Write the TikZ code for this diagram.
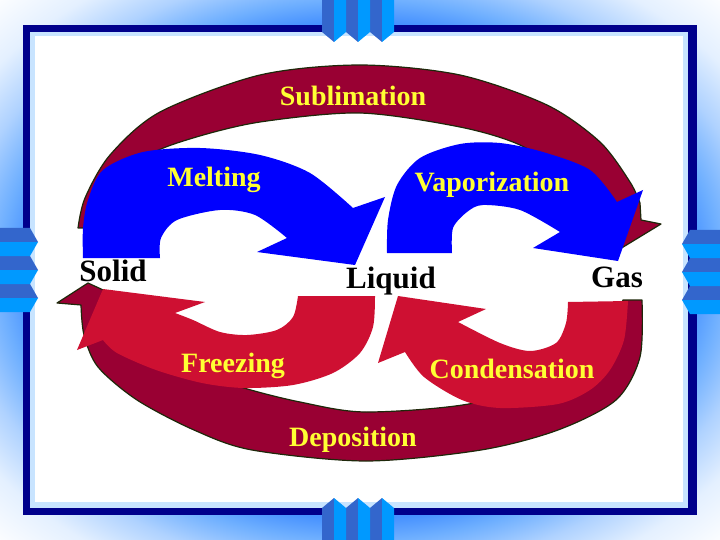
\documentclass[tikz,border=0pt]{standalone}
\usepackage{fontspec}
\setmainfont{Liberation Serif}
\usetikzlibrary{positioning}

\definecolor{maroon}{RGB}{153,0,51}
\definecolor{crimson}{RGB}{206,16,50}
\definecolor{royal}{RGB}{0,0,255}
\definecolor{navy}{RGB}{0,0,140}
\definecolor{pale}{RGB}{200,228,255}
\definecolor{tabdark}{RGB}{51,102,204}
\definecolor{tabbright}{RGB}{0,153,255}
\definecolor{label}{RGB}{255,255,51}
\definecolor{rim}{RGB}{30,40,10}
\definecolor{glowA}{RGB}{70,145,255}
\definecolor{glowB}{RGB}{110,175,255}
\definecolor{glowC}{RGB}{175,210,255}
\definecolor{glowD}{RGB}{228,240,255}

\pgfdeclareradialshading{frameglow}{\pgfpoint{0bp}{0bp}}{%
  color(0bp)=(glowA); color(23bp)=(glowA); color(25bp)=(glowB);
  color(28bp)=(glowC); color(31.5bp)=(glowD); color(36bp)=(white);
  color(50bp)=(white)}

\tikzstyle{state} = [font=\fontsize{31}{33}\selectfont\bfseries, text=black, inner sep=0pt, anchor=base]
\tikzstyle{change} = [font=\fontsize{28}{30}\selectfont\bfseries, text=label, inner sep=0pt, anchor=base]
\tikzstyle{ring} = [fill=maroon, draw=rim, line width=1.2pt, line join=round]

\begin{document}
\begin{tikzpicture}[x=1pt,y=-1pt]
\useasboundingbox (0,0) rectangle (720,540);

% frame
\shade[shading=frameglow] (0,0) rectangle (720,540);
\fill[navy] (23,25) rectangle (697,515);
\fill[pale] (30,32) rectangle (688,508);
\fill[white] (35,36) rectangle (683,502);

% tabs
\fill[tabdark] (322,0) -- (334,0) -- (334,42) -- (322,32) -- cycle
  (346,0) -- (358,0) -- (358,42) -- (346,32) -- cycle
  (370,0) -- (382,0) -- (382,42) -- (370,32) -- cycle;
\fill[tabbright] (334,0) -- (346,0) -- (346,32) -- (334,42) -- cycle
  (358,0) -- (370,0) -- (370,32) -- (358,42) -- cycle
  (382,0) -- (394,0) -- (394,32) -- (382,42) -- cycle;
\fill[tabdark] (322,540) -- (334,540) -- (334,498) -- (322,508) -- cycle
  (346,540) -- (358,540) -- (358,498) -- (346,508) -- cycle
  (370,540) -- (382,540) -- (382,498) -- (370,508) -- cycle;
\fill[tabbright] (334,540) -- (346,540) -- (346,508) -- (334,498) -- cycle
  (358,540) -- (370,540) -- (370,508) -- (358,498) -- cycle
  (382,540) -- (394,540) -- (394,508) -- (382,498) -- cycle;
\fill[tabdark] (0,228) -- (0,242) -- (38,242) -- (30,228) -- cycle
  (0,256) -- (0,270) -- (38,270) -- (30,256) -- cycle
  (0,284) -- (0,298) -- (38,298) -- (30,284) -- cycle;
\fill[tabbright] (0,242) -- (0,256) -- (30,256) -- (38,242) -- cycle
  (0,270) -- (0,284) -- (30,284) -- (38,270) -- cycle
  (0,298) -- (0,312) -- (30,312) -- (38,298) -- cycle;
\fill[tabdark] (720,230) -- (720,244) -- (682,244) -- (690,230) -- cycle
  (720,258) -- (720,272) -- (682,272) -- (690,258) -- cycle
  (720,286) -- (720,300) -- (682,300) -- (690,286) -- cycle;
\fill[tabbright] (720,244) -- (720,258) -- (690,258) -- (682,244) -- cycle
  (720,272) -- (720,286) -- (690,286) -- (682,272) -- cycle
  (720,300) -- (720,314) -- (690,314) -- (682,300) -- cycle;

% sublimation and deposition
\filldraw[ring] plot[smooth] coordinates {(78,228) (85,198) (110,155) (160,112) (260,75) (360,65) (460,75) (547,105) (600,142) (630,182) (640,203)}
  -- (641,220) -- (661,224) -- (615,252) -- (588,222) -- (600,212)
  -- plot[smooth] coordinates {(600,212) (565,175) (520,145) (460,127) (360,113) (260,122) (193,138) (147,156) (112,190) (92,228)} -- cycle;
\filldraw[ring] plot[smooth] coordinates {(642,300) (640,357) (616,400) (558,430) (481,450) (366,461) (252,450) (194,430) (137,400) (98,367) (84,335) (81,305)}
  -- (57,303) -- (88,283) -- (125,300) -- (112,322)
  -- plot[smooth] coordinates {(112,322) (150,350) (200,372) (244,388) (300,402) (366,412) (474,403) (560,372) (602,340) (623,300)} -- cycle;

% melting and vaporization
\fill[royal] plot[smooth] coordinates {(83,258) (83,228) (88,200) (103,170) (143,152) (200,148) (260,155) (310,173) (353,208)}
  -- (385,197) -- (355,265) -- (257,252) -- (287,238)
  -- plot[smooth] coordinates {(287,238) (255,215) (220,210) (177,220) (161,238) (160,258)} -- cycle;
\fill[royal] plot[smooth] coordinates {(387,253) (388,220) (397,185) (420,158) (460,144) (500,143) (543,152) (590,170) (617,202)}
  -- (643,190) -- (618,261) -- (533,248) -- (560,232)
  -- plot[smooth] coordinates {(560,232) (520,210) (483,205) (467,212) (453,228) (452,253)} -- cycle;

% freezing and condensation
\fill[crimson] plot[smooth] coordinates {(375,296) (373,327) (360,353) (333,373) (293,385) (244,388) (202,383) (156,370) (117,353) (103,340)}
  -- (77,350) -- (103,289) -- (205,302) -- (175,313)
  -- plot[smooth] coordinates {(175,313) (193,320) (220,332) (247,335) (277,330) (293,317) (298,296)} -- cycle;
\fill[crimson] plot[smooth] coordinates {(628,301) (624,340) (610,370) (590,390) (558,404) (500,408) (462,400) (424,377) (405,352)}
  -- (378,363) -- (398,296) -- (486,309) -- (458,322)
  -- plot[smooth] coordinates {(458,322) (500,343) (530,351) (556,343) (566,323) (568,302)} -- cycle;

\node[state] (solid) at (113,281) {Solid};
\node[state] (liquid) at (391,288) {Liquid};
\node[state] (gas) at (617,287) {Gas};

\node[change] (subl) at (353,106) {Sublimation};
\node[change] (melt) at (214,187) {Melting};
\node[change] (vap) at (492,192) {Vaporization};
\node[change] (freeze) at (233,372) {Freezing};
\node[change] (cond) at (512,378) {Condensation};
\node[change] (depo) at (353,446) {Deposition};

\end{tikzpicture}
\end{document}
